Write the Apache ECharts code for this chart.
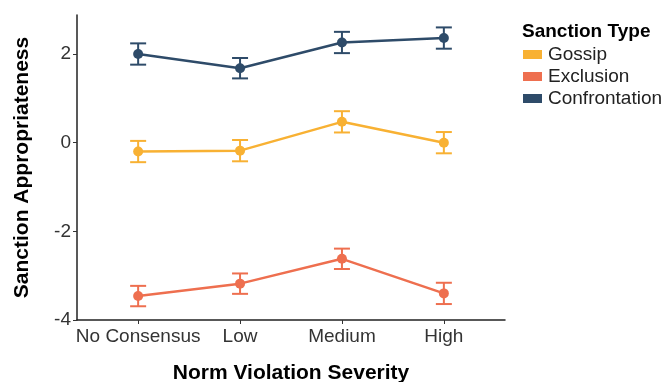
<!DOCTYPE html>
<html>
<head>
<meta charset="utf-8">
<script src="https://cdn.jsdelivr.net/npm/echarts@6/dist/echarts.min.js"></script>
<style>
  html, body { margin: 0; padding: 0; background: #fff; }
  #chart { width: 664px; height: 382px; }
</style>
</head>
<body>
<div id="chart"></div>
<script>
const categories = ['No Consensus', 'Low', 'Medium', 'High']
const seriesNames = ['Gossip', 'Exclusion', 'Confrontation']
const gossipMean = [-0.20, -0.18, 0.47, 0.00]
const gossipErr = [0.24, 0.24, 0.24, 0.24]
const exclusionMean = [-3.46, -3.18, -2.62, -3.40]
const exclusionErr = [0.23, 0.23, 0.23, 0.24]
const confrontationMean = [2.00, 1.68, 2.26, 2.36]
const confrontationErr = [0.24, 0.23, 0.24, 0.24]
const yTicks = [-4, -2, 0, 2]

const colors = ['#F8B133', '#EE6F4F', '#2E4B69']
const font = '"Liberation Sans", Arial, Helvetica, sans-serif'

const means = [gossipMean, exclusionMean, confrontationMean]
const errs = [gossipErr, exclusionErr, confrontationErr]

const chart = echarts.init(document.getElementById('chart'))

const series = []
seriesNames.forEach((name, i) => {
  // error bars
  series.push({
    name,
    type: 'custom',
    renderItem: (params, api) => {
      const x = api.value(0)
      const lo = api.coord([x, api.value(1)])
      const hi = api.coord([x, api.value(2)])
      const cap = 8
      const style = { stroke: colors[i], lineWidth: 2, fill: null }
      return {
        type: 'group',
        children: [
          { type: 'line', shape: { x1: lo[0], y1: lo[1], x2: hi[0], y2: hi[1] }, style },
          { type: 'line', shape: { x1: lo[0] - cap, y1: lo[1], x2: lo[0] + cap, y2: lo[1] }, style },
          { type: 'line', shape: { x1: hi[0] - cap, y1: hi[1], x2: hi[0] + cap, y2: hi[1] }, style },
        ],
      }
    },
    data: means[i].map((m, j) => [j + 1, m - errs[i][j], m + errs[i][j]]),
    z: 2,
  })
  series.push({
    name,
    type: 'line',
    data: means[i].map((m, j) => [j + 1, m]),
    symbol: 'circle',
    symbolSize: 10,
    lineStyle: { color: colors[i], width: 2.5 },
    itemStyle: { color: colors[i] },
    z: 3,
  })
})

chart.setOption({
  animation: false,
  color: colors,
  title: {
    text: 'Sanction Type',
    left: 522,
    top: 22,
    padding: 0,
    textStyle: { fontFamily: font, fontSize: 19, fontWeight: 'bold', color: '#000' },
  },
  legend: {
    data: seriesNames.map((n, i) => ({ name: n, itemStyle: { color: colors[i] } })),
    orient: 'vertical',
    left: 523,
    top: 45,
    padding: 0,
    icon: 'rect',
    itemWidth: 19,
    itemHeight: 9,
    itemGap: 3,
    textStyle: { fontFamily: font, fontSize: 19, color: '#222', padding: [0, 0, 0, 1] },
  },
  grid: { left: 77, right: 159, top: 15, bottom: 62, outerBoundsMode: 'none' },
  xAxis: {
    type: 'value',
    min: 0.4,
    max: 4.6,
    name: 'Norm Violation Severity',
    nameLocation: 'middle',
    nameGap: 43,
    nameTextStyle: { fontFamily: font, fontSize: 21, fontWeight: 'bold', color: '#000' },
    splitLine: { show: false },
    axisLine: { onZero: false, lineStyle: { color: '#222', width: 1.5 } },
    axisTick: { customValues: [1, 2, 3, 4], length: 4, lineStyle: { color: '#333' } },
    axisLabel: {
      customValues: [1, 2, 3, 4],
      formatter: (v) => categories[Math.round(v) - 1],
      fontFamily: font,
      fontSize: 19,
      color: '#333',
      margin: 7,
    },
  },
  yAxis: {
    type: 'value',
    min: -4,
    max: 2.88,
    name: 'Sanction Appropriateness',
    nameLocation: 'middle',
    nameGap: 44,
    nameTextStyle: { fontFamily: font, fontSize: 21, fontWeight: 'bold', color: '#000' },
    splitLine: { show: false },
    axisLine: { show: true, onZero: false, lineStyle: { color: '#222', width: 1.5 } },
    axisTick: { show: true, customValues: yTicks, length: 4, lineStyle: { color: '#333' } },
    axisLabel: { customValues: yTicks, fontFamily: font, fontSize: 19, color: '#333', margin: 6 },
  },
  series,
})
</script>
</body>
</html>
